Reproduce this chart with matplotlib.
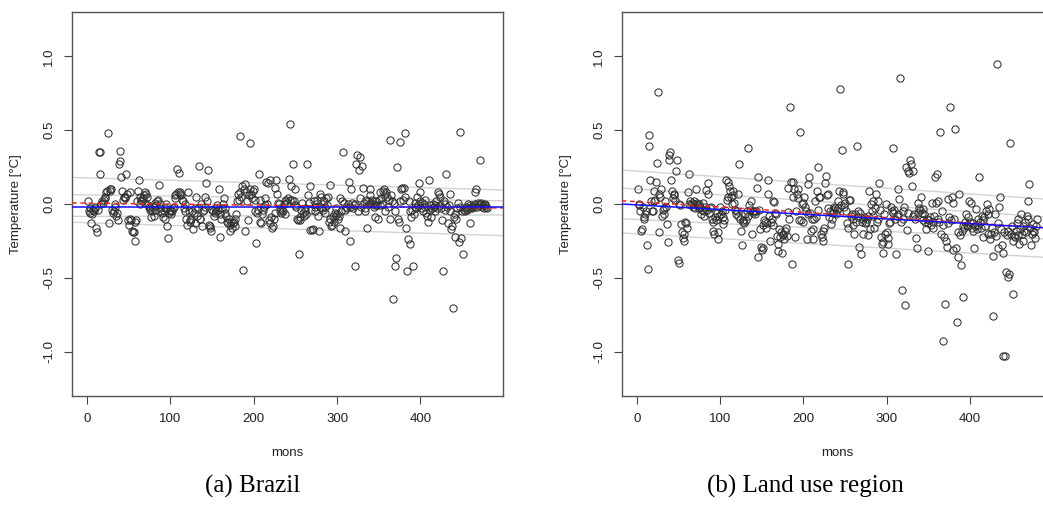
import matplotlib
matplotlib.use('Agg')
import matplotlib.pyplot as plt
import numpy as np

plt.rcParams['font.family'] = ['Liberation Sans', 'DejaVu Sans']

# ---------------- data ----------------
brazil = [
    0.02, -0.05, -0.03, -0.06, -0.13, -0.07, -0.04, -0.05, -0.03, -0.02,
    -0.16, -0.19, -0.04, 0.35, 0.35, 0.20, 0.00, 0.02, 0.01, 0.03,
    0.05, 0.04, 0.08, 0.09, 0.48, -0.13, 0.10, 0.09, 0.10, -0.04,
    -0.06, -0.05, 0.00, -0.02, -0.08, -0.06, -0.11, 0.27, 0.29, 0.36,
    0.18, 0.09, 0.03, 0.05, 0.05, 0.04, 0.20, 0.07, -0.11, -0.14,
    0.08, -0.10, -0.11, -0.18, -0.19, -0.19, -0.25, -0.12, -0.11, 0.02,
    0.09, 0.16, 0.00, 0.05, 0.03, 0.02, 0.04, 0.06, 0.08, 0.01,
    0.07, 0.05, -0.01, -0.02, -0.04, -0.03, -0.09, -0.05, -0.02, -0.08,
    -0.04, 0.01, -0.01, 0.02, 0.03, 0.13, -0.03, 0.00, -0.05, -0.06,
    -0.09, -0.05, -0.10, -0.03, 0.00, -0.15, -0.23, -0.06, -0.05, -0.04,
    -0.07, -0.05, -0.03, -0.02, 0.04, 0.06, 0.07, 0.24, 0.08, 0.21,
    0.08, 0.07, 0.06, 0.03, 0.02, -0.03, -0.05, 0.00, -0.10, -0.14,
    0.08, -0.05, -0.11, -0.12, -0.10, -0.05, -0.17, -0.06, -0.03, -0.13,
    0.05, -0.08, -0.03, 0.26, -0.10, -0.10, 0.00, -0.15, -0.05, -0.04,
    0.05, -0.02, 0.14, 0.02, 0.23, -0.14, -0.15, -0.16, -0.18, -0.04,
    -0.05, -0.08, -0.03, -0.06, -0.05, -0.01, -0.04, 0.10, -0.07, -0.225,
    -0.10, -0.03, 0.00, 0.04, -0.03, -0.06, -0.08, -0.12, -0.13, -0.10,
    -0.18, -0.14, -0.12, -0.16, -0.13, -0.12, -0.15, -0.10, -0.07, 0.02,
    0.07, 0.03, 0.08, 0.46, 0.05, 0.12, -0.445, 0.10, 0.135, -0.18,
    0.08, 0.02, -0.11, 0.06, 0.10, 0.41, 0.07, 0.04, 0.09, 0.10,
    0.03, -0.05, -0.265, -0.06, -0.04, 0.20, 0.03, -0.12, -0.13, -0.07,
    -0.04, -0.02, -0.01, 0.04, 0.15, 0.00, 0.14, -0.11, -0.13, 0.16,
    -0.09, -0.16, -0.15, -0.10, -0.06, 0.11, 0.16, 0.07, 0.01, 0.00,
    -0.03, -0.05, -0.06, -0.04, -0.05, 0.00, -0.07, 0.02, 0.03, 0.01,
    0.04, 0.17, 0.03, 0.545, 0.12, 0.03, 0.27, 0.02, -0.01, 0.10,
    -0.02, -0.10, -0.11, -0.34, -0.09, -0.11, -0.04, 0.01, -0.06, -0.08,
    -0.05, -0.03, -0.07, 0.27, 0.06, 0.01, 0.12, -0.175, -0.04, -0.175,
    -0.17, 0.02, -0.05, -0.02, 0.00, 0.03, -0.08, -0.185, 0.07, -0.02,
    0.05, -0.03, -0.04, 0.02, -0.06, -0.02, 0.04, -0.01, 0.05, -0.12,
    0.13, -0.10, -0.15, -0.14, -0.08, -0.12, -0.06, -0.09, -0.03, -0.07,
    -0.10, -0.08, -0.16, 0.04, -0.05, 0.02, 0.355, 0.01, -0.04, -0.18,
    -0.02, -0.03, 0.00, 0.15, -0.02, -0.25, 0.10, 0.01, -0.03, -0.01,
    0.00, -0.42, 0.27, 0.33, -0.05, 0.23, 0.32, 0.04, -0.02, 0.26,
    0.11, 0.01, -0.03, -0.05, 0.03, -0.16, 0.02, 0.00, 0.06, 0.10,
    0.01, 0.03, 0.00, -0.02, -0.01, -0.085, 0.02, -0.01, -0.10, 0.03,
    0.08, -0.01, 0.04, 0.00, 0.09, 0.10, -0.05, 0.07, 0.08, 0.05,
    -0.02, 0.03, -0.10, 0.43, 0.06, 0.02, -0.64, 0.01, -0.42, -0.05,
    -0.365, 0.25, -0.10, -0.12, 0.02, 0.42, 0.10, 0.11, 0.03, 0.11,
    0.05, 0.48, -0.165, -0.455, -0.24, 0.02, -0.05, -0.27, -0.085, -0.04,
    -0.42, -0.07, -0.02, 0.01, -0.03, 0.05, -0.01, 0.14, 0.08, 0.02,
    -0.03, 0.01, -0.05, 0.00, -0.02, 0.03, -0.06, -0.08, -0.12, 0.16,
    -0.04, -0.01, -0.09, -0.03, 0.00, -0.02, -0.05, -0.01, 0.02, -0.03,
    0.08, 0.07, 0.05, -0.01, -0.03, -0.11, -0.455, 0.02, 0.00, -0.04,
    0.20, -0.02, -0.13, -0.01, 0.07, -0.05, -0.17, -0.15, -0.705, -0.09,
    -0.225, -0.07, -0.10, -0.03, 0.01, -0.26, -0.02, 0.49, -0.23, -0.05,
    -0.34, -0.04, -0.03, -0.05, -0.02, -0.04, 0.00, -0.03, -0.13, -0.01,
    -0.02, -0.03, -0.01, -0.02, 0.00, 0.08, 0.10, -0.02, 0.01, -0.01,
    0.30, 0.00, 0.01, -0.02, -0.01, -0.03, 0.00, -0.01, -0.02, -0.03,
]

landuse = [
    0.10, -0.01, 0.00, -0.05, -0.18, -0.17, -0.02, -0.085, -0.10, -0.07,
    -0.05, -0.28, -0.44, 0.47, 0.39, 0.16, 0.02, -0.05, -0.05, 0.02,
    0.09, 0.03, 0.15, 0.28, 0.76, -0.19, 0.07, 0.05, 0.10, -0.08,
    -0.04, -0.07, -0.03, 0.02, -0.02, -0.135, -0.255, 0.33, 0.30, 0.35,
    0.16, 0.09, 0.04, 0.07, 0.06, 0.03, 0.225, 0.30, -0.38, -0.40,
    0.00, -0.01, -0.135, -0.19, -0.23, -0.20, -0.25, -0.12, -0.13, -0.16,
    0.08, 0.20, 0.00, 0.02, -0.01, 0.01, -0.02, 0.00, 0.02, -0.03,
    0.10, 0.01, -0.01, 0.00, -0.03, -0.02, -0.07, -0.04, 0.01, -0.05,
    -0.08, -0.02, 0.095, -0.04, 0.14, 0.07, -0.06, -0.03, -0.02, -0.10,
    -0.18, -0.12, -0.20, -0.09, -0.11, -0.06, -0.235, -0.19, -0.08, -0.02,
    -0.07, -0.05, -0.135, -0.09, -0.11, -0.04, 0.16, 0.03, 0.15, 0.05,
    0.125, 0.09, 0.045, 0.00, 0.09, 0.06, 0.01, -0.04, -0.07, -0.05,
    0.07, -0.08, 0.27, -0.10, -0.18, -0.28, -0.12, -0.11, -0.13, -0.07,
    -0.11, -0.05, -0.08, 0.38, -0.01, -0.04, 0.02, -0.20, -0.06, -0.05,
    -0.045, -0.07, -0.05, 0.11, 0.18, -0.36, -0.04, -0.17, -0.29, -0.31,
    -0.30, -0.14, -0.11, -0.12, -0.16, -0.13, 0.07, 0.165, -0.08, -0.25,
    -0.12, -0.10, 0.02, -0.14, 0.015, -0.06, -0.07, -0.22, -0.27, -0.32,
    -0.17, -0.225, -0.19, -0.33, -0.21, -0.20, -0.24, -0.18, -0.16, -0.22,
    -0.055, 0.11, -0.10, 0.66, 0.15, -0.405, 0.05, 0.15, 0.10, -0.225,
    -0.05, 0.07, 0.04, 0.10, -0.11, 0.49, -0.11, 0.00, 0.01, -0.12,
    0.045, -0.02, -0.05, -0.24, 0.135, -0.07, 0.185, -0.06, -0.18, -0.10,
    -0.24, -0.17, -0.10, 0.02, -0.09, 0.09, 0.25, -0.04, 0.05, 0.045,
    -0.20, -0.225, -0.25, -0.18, -0.16, 0.145, 0.19, 0.06, 0.07, -0.03,
    -0.09, -0.05, -0.135, -0.10, -0.04, -0.06, -0.02, -0.03, -0.07, -0.04,
    0.02, -0.03, 0.09, 0.78, -0.01, 0.365, 0.08, 0.07, -0.02, 0.01,
    -0.05, -0.13, -0.16, -0.405, 0.03, 0.03, -0.08, -0.07, -0.10, -0.14,
    -0.20, -0.07, -0.12, 0.39, -0.045, -0.09, -0.29, -0.06, -0.34, -0.12,
    -0.20, -0.10, -0.09, -0.13, -0.12, -0.10, -0.21, -0.08, 0.09, -0.17,
    0.00, -0.05, 0.02, -0.08, -0.16, -0.03, 0.07, -0.12, 0.02, -0.10,
    0.145, -0.04, -0.225, -0.27, -0.26, -0.335, -0.07, -0.20, 0.00, -0.19,
    -0.23, -0.27, -0.13, -0.125, -0.02, -0.05, 0.38, -0.06, -0.04, -0.10,
    -0.34, -0.08, 0.10, -0.07, 0.035, 0.85, -0.12, -0.585, -0.10, -0.05,
    -0.02, -0.685, 0.25, -0.175, -0.06, 0.225, 0.21, 0.30, 0.27, 0.125,
    0.225, -0.08, -0.07, -0.10, -0.23, -0.30, -0.06, 0.01, -0.03, -0.04,
    0.045, -0.06, -0.035, -0.11, -0.07, -0.12, -0.17, -0.10, -0.13, -0.315,
    -0.11, -0.09, -0.14, 0.01, -0.12, -0.16, -0.08, 0.18, 0.01, 0.20,
    -0.10, 0.02, -0.12, 0.485, -0.20, -0.05, -0.925, -0.14, -0.225, -0.675,
    -0.25, -0.29, -0.13, 0.035, -0.09, 0.655, -0.11, 0.045, 0.005, -0.31,
    -0.10, 0.505, -0.30, -0.80, -0.36, -0.19, 0.07, -0.21, -0.41, -0.18,
    -0.63, -0.15, -0.16, -0.12, -0.07, -0.14, -0.09, -0.15, 0.02, -0.12,
    0.01, -0.16, -0.13, -0.18, -0.30, -0.15, -0.035, -0.17, -0.10, -0.14,
    0.185, -0.12, -0.16, -0.08, -0.225, -0.11, -0.09, -0.15, -0.05, 0.00,
    -0.07, -0.20, -0.035, -0.24, -0.20, -0.16, -0.35, -0.755, -0.19, -0.07,
    -0.22, 0.945, -0.30, -0.13, -0.02, 0.05, -0.17, -0.28, -0.335, -1.03,
    -0.19, -1.03, -0.46, -0.21, -0.495, -0.18, -0.475, 0.41, -0.20, -0.15,
    -0.61, -0.25, -0.22, -0.225, -0.18, -0.13, -0.10, -0.21, -0.27, -0.17,
    -0.07, -0.20, -0.25, -0.15, -0.18, -0.12, -0.19, -0.08, 0.02, -0.10,
    0.135, -0.16, -0.28, -0.20, -0.135, -0.18, -0.19, -0.23, -0.15, -0.10,
]

# fitted lines: value at month 0 and at month 480
brazil_bands = [(0.177, 0.098), (0.0616, 0.0235), (-0.0837, -0.0744), (-0.127, -0.211)]
brazil_smooth = (-0.020, -0.020)
brazil_trend = (0.0058, -0.0258)

landuse_bands = [(0.223, 0.037), (0.101, -0.083), (-0.105, -0.234), (-0.202, -0.358)]
landuse_smooth = (-0.006, -0.158)
landuse_trend = (0.0155, -0.157)

yticks = [-1.0, -0.5, 0.0, 0.5, 1.0]
ytick_labels = ['-1.0', '-0.5', '0.0', '0.5', '1.0']
xticks = [0, 100, 200, 300, 400]
captions = ['(a) Brazil', '(b) Land use region']
xlabel = 'mons'
ylabel = 'Temperature [°C]'

# ---------------- figure ----------------
W, H = 1043, 522
fig = plt.figure(figsize=(W / 100, H / 100), dpi=100)

ax_w = 431 / W
ax_h = 384 / H
ax_b = (H - 396) / H
axes = [fig.add_axes([72 / W, ax_b, ax_w, ax_h]),
        fig.add_axes([621.7 / W, ax_b, ax_w, ax_h])]

datasets = [(brazil, brazil_bands, brazil_smooth, brazil_trend),
            (landuse, landuse_bands, landuse_smooth, landuse_trend)]

xlim = (-18.2, 499.2)
ylim = (-1.30, 1.30)


def line_vals(pair, xs):
    v0, v1 = pair
    return v0 + (v1 - v0) * np.asarray(xs) / 480.0


for ax, (vals, bands, smooth, trend), cap in zip(axes, datasets, captions):
    vals = np.asarray(vals)
    months = np.arange(1, len(vals) + 1)
    xs = np.array(xlim)
    for b in bands:
        ax.plot(xs, line_vals(b, xs), color='#d3d3d3', lw=1.0, zorder=1)
    ax.plot(months, vals, linestyle='none', marker='o', markersize=5.2,
            markerfacecolor='none', markeredgecolor='#303030',
            markeredgewidth=0.75, zorder=2)
    ax.plot(xs, line_vals(trend, xs), color='#ff2020', lw=1.1,
            linestyle=(0, (3, 2.5)), zorder=3)
    ax.plot(xs, line_vals(smooth, xs), color='#1010ff', lw=1.1, zorder=4)

    ax.set_xlim(*xlim)
    ax.set_ylim(*ylim)
    ax.set_yticks(yticks)
    ax.set_yticklabels(ytick_labels, rotation=90, va='center')
    ax.set_xticks(xticks)
    ax.tick_params(axis='both', direction='out', length=5.5, width=0.8,
                   color='#444444', labelsize=9.5, pad=6.5, labelcolor='#222222')
    for sp in ax.spines.values():
        sp.set_color('#555555')
        sp.set_linewidth(1.0)
    ax.set_xlabel(xlabel, fontsize=9.5, labelpad=16, color='#222222')
    ax.set_ylabel(ylabel, fontsize=9.5, labelpad=15, color='#222222')

fig.text(253 / W, 1 - 486 / H, captions[0], ha='center', va='center',
         fontsize=18, family=['Liberation Serif', 'DejaVu Serif'])
fig.text(805 / W, 1 - 486 / H, captions[1], ha='center', va='center',
         fontsize=18, family=['Liberation Serif', 'DejaVu Serif'])

fig.savefig('out.png', dpi=100)
